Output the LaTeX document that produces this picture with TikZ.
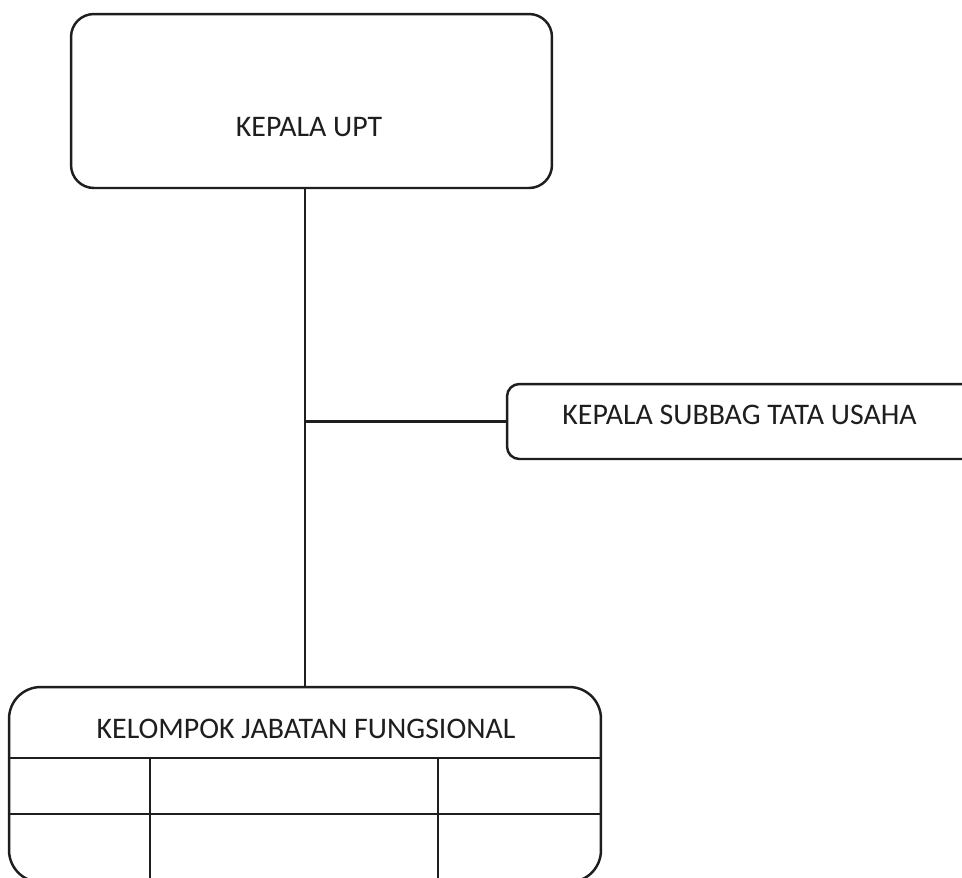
\documentclass[tikz,border=0pt]{standalone}
\usepackage{fontspec}
\setmainfont{Carlito}
\usepackage{tikz}
\usetikzlibrary{positioning,calc}
\definecolor{ink}{HTML}{1E1E1E}
\tikzset{%
	unitbox/.style = {draw=ink, line width=1.4pt, rectangle, rounded corners=#1, inner sep=0pt},
	unitbox/.default = 12pt,
	label/.style   = {text=ink, font=\fontsize{17}{20}\selectfont, inner sep=0pt},
	conn/.style    = {draw=ink, line width=1.4pt},
}

\begin{document}
\begin{tikzpicture}[x=0.02cm,y=-0.02cm]
		\clip (0,0) rectangle (962,877);
		\fill[white] (0,0) rectangle (962,877);
		
		% boxes
		\node[unitbox=13pt, minimum width=9.62cm, minimum height=3.48cm] (upt) at (311.5,101) {};
		\node[unitbox=7pt, minimum width=9.4cm, minimum height=1.5cm] (tu) at (742,421.5) {};
		\node[unitbox=18pt, minimum width=11.84cm, minimum height=3.9cm] (kjf) at (305,784.5) {};
		
		\node[label] (uptlabel) at (309,127) {KEPALA UPT};
		\node[label] (tulabel) at (739.5,415) {KEPALA SUBBAG TATA USAHA};
		\node[label] (kjflabel) at (306,729) {KELOMPOK JABATAN FUNGSIONAL};
		
		% table inside the lower box
		\coordinate (rowa) at (0,758);
		\coordinate (rowb) at (0,814);
		\draw[conn] (kjf.west |- rowa) -- (kjf.east |- rowa);
		\draw[conn] (kjf.west |- rowb) -- (kjf.east |- rowb);
		\foreach \x in {150,438} \draw[conn] (\x,758) -- (\x,890);
		
		% connectors
		\draw[conn] (kjf.north |- upt.south) -- (kjf.north);
		\draw[conn] (kjf.north |- tu.west) -- (tu.west);
\end{tikzpicture}
\end{document}
